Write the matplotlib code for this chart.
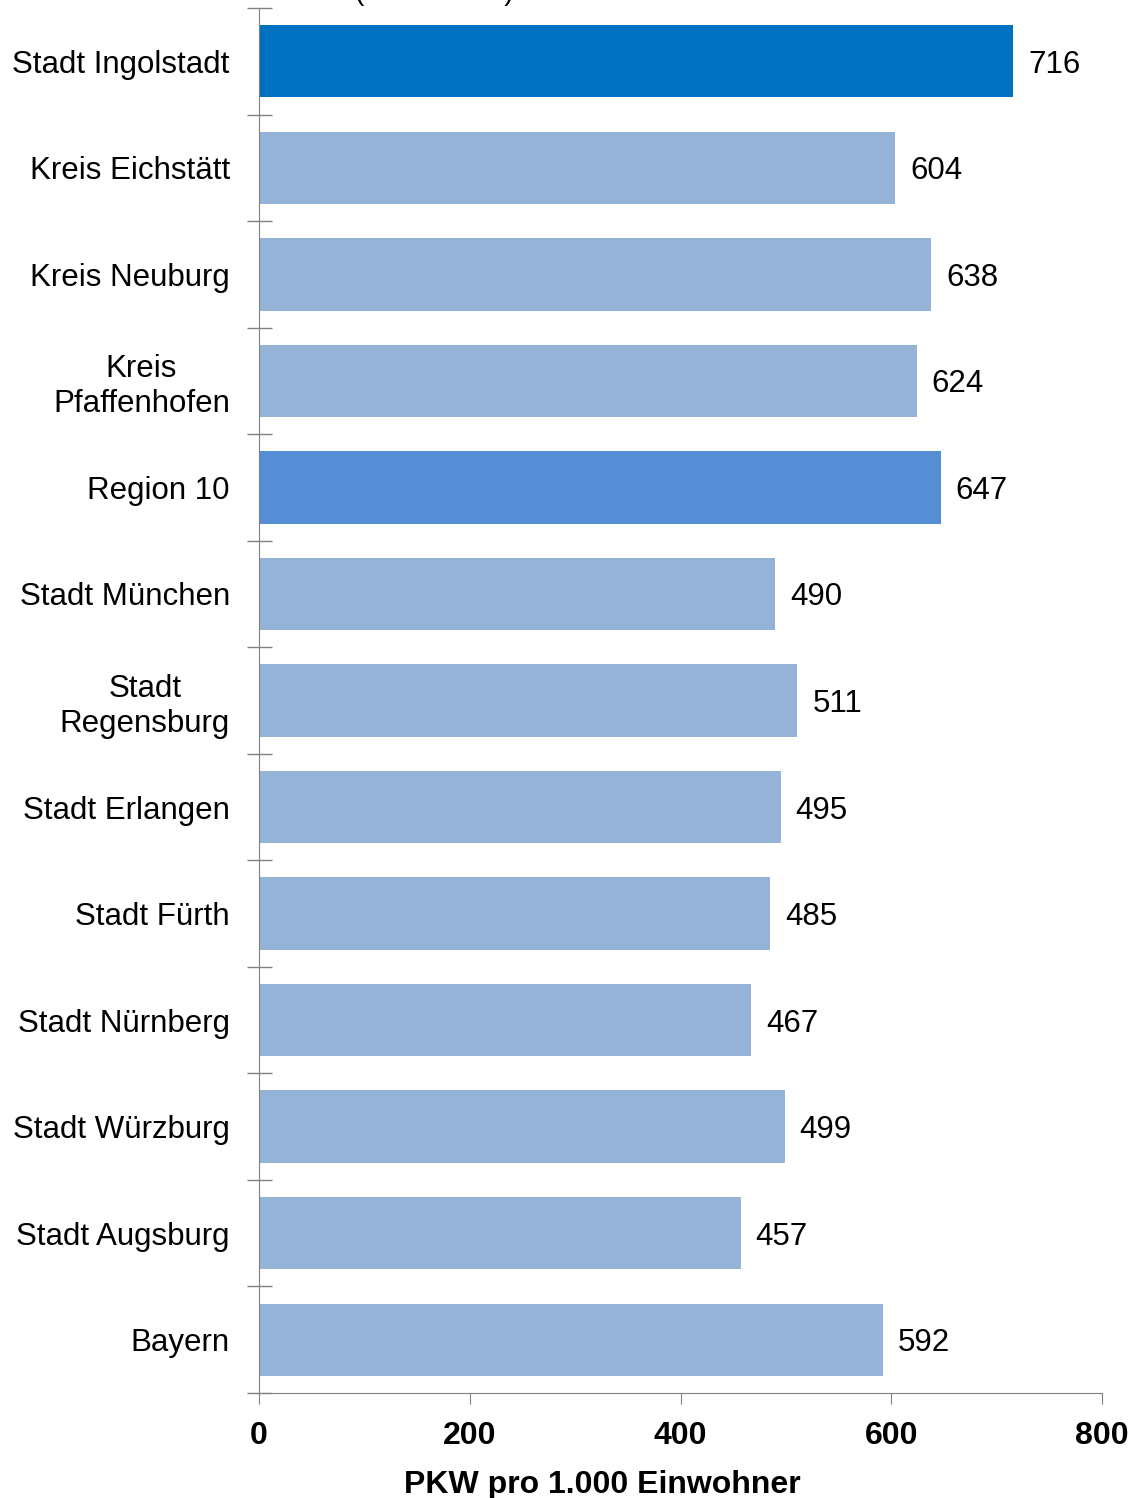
import matplotlib.pyplot as plt
import numpy as np

plt.rcParams['font.family'] = ['Liberation Sans', 'DejaVu Sans']

categories = ['Stadt Ingolstadt', 'Kreis Eichstätt', 'Kreis Neuburg', 'Kreis\nPfaffenhofen',
              'Region 10', 'Stadt München', 'Stadt\nRegensburg', 'Stadt Erlangen',
              'Stadt Fürth', 'Stadt Nürnberg', 'Stadt Würzburg', 'Stadt Augsburg', 'Bayern']
values = [716, 604, 638, 624, 647, 490, 511, 495, 485, 467, 499, 457, 592]
colors = ['#0070C0', '#95B3D7', '#95B3D7', '#95B3D7', '#558ED5', '#95B3D7', '#95B3D7',
          '#95B3D7', '#95B3D7', '#95B3D7', '#95B3D7', '#95B3D7', '#95B3D7']

fig = plt.figure(figsize=(11.33, 14.98), dpi=100)
ax = fig.add_axes([259/1133, 1 - 1393/1498, (1102-259)/1133, (1393-8)/1498])

y = np.arange(len(categories))
ax.barh(y, values, height=0.68, color=colors)
for yi, v in zip(y, values):
    ax.text(v + 14, yi, str(v), va='center_baseline', ha='left', fontsize=22.5)

ax.set_ylim(len(categories) - 0.5, -0.5)
ax.set_xlim(0, 800)
ax.set_yticks(y)
ax.set_yticklabels(categories, fontsize=22.5, multialignment='center')
ax.tick_params(axis='y', which='major', length=0, pad=21)
ax.set_yticks(np.arange(-0.5, len(categories) + 0.5, 1), minor=True)
ax.tick_params(axis='y', which='minor', direction='inout', length=18, color='#808080', width=1)

ax.set_xticks([0, 200, 400, 600, 800])
ax.tick_params(axis='x', direction='out', length=8, color='#808080', labelsize=23, pad=12)
for lab in ax.get_xticklabels():
    lab.set_fontweight('bold')
ax.set_xlabel('PKW pro 1.000 Einwohner', fontsize=23, fontweight='bold')
ax.xaxis.set_label_coords(0.407, -0.0555)

for s in ['top', 'right']:
    ax.spines[s].set_visible(False)
for s in ['left', 'bottom']:
    ax.spines[s].set_color('#808080')

# title is cut off at the top edge in the original, only the parens remain visible
fig.text(434/1133, 1 - 0.5/1498, '(Stand 2011)', ha='center', va='baseline', fontsize=20)

fig.savefig('out.png', dpi=100)
